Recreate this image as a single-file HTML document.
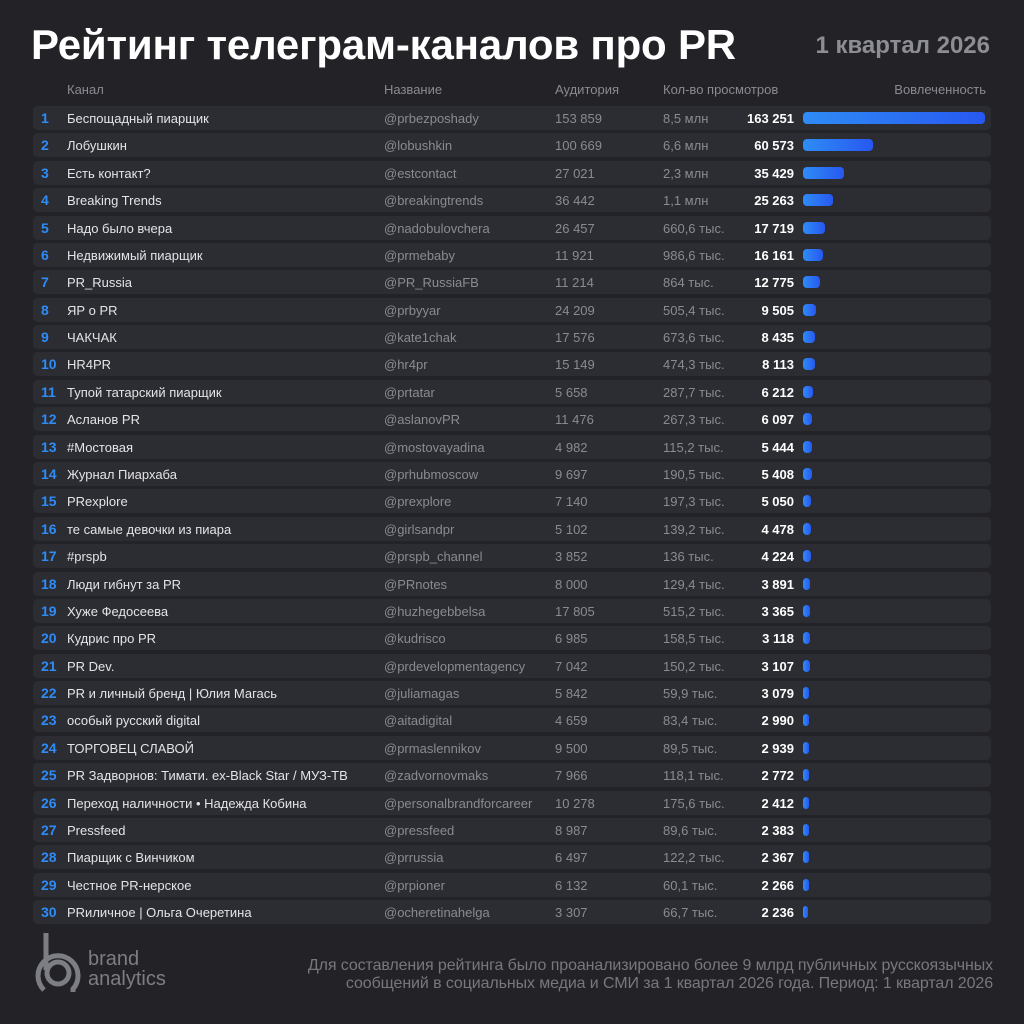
<!DOCTYPE html>
<html><head><meta charset="utf-8"><style>
body{margin:0;width:1024px;height:1024px;background:#232327;font-family:"Liberation Sans",sans-serif;position:relative;overflow:hidden}
.t{position:absolute;left:31px;top:21px;font-size:42px;font-weight:bold;color:#fff;letter-spacing:-0.2px}
.q{position:absolute;right:34px;top:32px;font-size:24px;font-weight:bold;color:#8d8e94}
.h{position:absolute;top:82px;font-size:13px;color:#8a8b92}
.r{position:absolute;left:33px;width:958px;height:24px;background:#2c2d32;border-radius:5px;font-size:13px;line-height:25px;color:#e4e4e7}
.r span{position:absolute;white-space:nowrap}
.n{left:8px;color:#2f8cf6;font-weight:bold;font-size:14px}
.c{left:34px}
.a{left:351px;color:#8a8b92}
.u{left:522px;color:#8a8b92}
.v{left:630px;color:#8a8b92}
.e{right:197px;font-weight:bold;color:#fff}
.b{position:absolute;left:770px;top:6px;height:12px;border-radius:4px;background:linear-gradient(90deg,#2f8cf6,#2758f0)}
.f{position:absolute;right:31px;top:957px;text-align:right;font-size:16px;line-height:18px;color:#77787d;letter-spacing:-0.1px}
.lg{position:absolute;left:88px;top:949px;font-size:20px;line-height:20px;color:#7c7e84}
</style></head><body>
<div class="t">Рейтинг телеграм-каналов про PR</div>
<div class="q">1 квартал 2026</div>
<div class="h" style="left:67px">Канал</div>
<div class="h" style="left:384px">Название</div>
<div class="h" style="left:555px">Аудитория</div>
<div class="h" style="left:663px">Кол-во просмотров</div>
<div class="h" style="right:38px">Вовлеченность</div>

<div class="r" style="top:106px"><span class="n">1</span><span class="c">Беспощадный пиарщик</span><span class="a">@prbezposhady</span><span class="u">153 859</span><span class="v">8,5 млн</span><span class="e">163 251</span><div class="b" style="width:182px"></div></div>
<div class="r" style="top:133.4px"><span class="n">2</span><span class="c">Лобушкин</span><span class="a">@lobushkin</span><span class="u">100 669</span><span class="v">6,6 млн</span><span class="e">60 573</span><div class="b" style="width:70px"></div></div>
<div class="r" style="top:160.8px"><span class="n">3</span><span class="c">Есть контакт?</span><span class="a">@estcontact</span><span class="u">27 021</span><span class="v">2,3 млн</span><span class="e">35 429</span><div class="b" style="width:41px"></div></div>
<div class="r" style="top:188.1px"><span class="n">4</span><span class="c">Breaking Trends</span><span class="a">@breakingtrends</span><span class="u">36 442</span><span class="v">1,1 млн</span><span class="e">25 263</span><div class="b" style="width:30px"></div></div>
<div class="r" style="top:215.5px"><span class="n">5</span><span class="c">Надо было вчера</span><span class="a">@nadobulovchera</span><span class="u">26 457</span><span class="v">660,6 тыс.</span><span class="e">17 719</span><div class="b" style="width:22px"></div></div>
<div class="r" style="top:242.9px"><span class="n">6</span><span class="c">Недвижимый пиарщик</span><span class="a">@prmebaby</span><span class="u">11 921</span><span class="v">986,6 тыс.</span><span class="e">16 161</span><div class="b" style="width:20px"></div></div>
<div class="r" style="top:270.3px"><span class="n">7</span><span class="c">PR_Russia</span><span class="a">@PR_RussiaFB</span><span class="u">11 214</span><span class="v">864 тыс.</span><span class="e">12 775</span><div class="b" style="width:17px"></div></div>
<div class="r" style="top:297.7px"><span class="n">8</span><span class="c">ЯР о PR</span><span class="a">@prbyyar</span><span class="u">24 209</span><span class="v">505,4 тыс.</span><span class="e">9 505</span><div class="b" style="width:13px"></div></div>
<div class="r" style="top:325px"><span class="n">9</span><span class="c">ЧАКЧАК</span><span class="a">@kate1chak</span><span class="u">17 576</span><span class="v">673,6 тыс.</span><span class="e">8 435</span><div class="b" style="width:12px"></div></div>
<div class="r" style="top:352.4px"><span class="n">10</span><span class="c">HR4PR</span><span class="a">@hr4pr</span><span class="u">15 149</span><span class="v">474,3 тыс.</span><span class="e">8 113</span><div class="b" style="width:11.5px"></div></div>
<div class="r" style="top:379.8px"><span class="n">11</span><span class="c">Тупой татарский пиарщик</span><span class="a">@prtatar</span><span class="u">5 658</span><span class="v">287,7 тыс.</span><span class="e">6 212</span><div class="b" style="width:9.5px"></div></div>
<div class="r" style="top:407.2px"><span class="n">12</span><span class="c">Асланов PR</span><span class="a">@aslanovPR</span><span class="u">11 476</span><span class="v">267,3 тыс.</span><span class="e">6 097</span><div class="b" style="width:9.3px"></div></div>
<div class="r" style="top:434.6px"><span class="n">13</span><span class="c">#Мостовая</span><span class="a">@mostovayadina</span><span class="u">4 982</span><span class="v">115,2 тыс.</span><span class="e">5 444</span><div class="b" style="width:8.8px"></div></div>
<div class="r" style="top:462px"><span class="n">14</span><span class="c">Журнал Пиархаба</span><span class="a">@prhubmoscow</span><span class="u">9 697</span><span class="v">190,5 тыс.</span><span class="e">5 408</span><div class="b" style="width:8.7px"></div></div>
<div class="r" style="top:489.3px"><span class="n">15</span><span class="c">PRexplore</span><span class="a">@prexplore</span><span class="u">7 140</span><span class="v">197,3 тыс.</span><span class="e">5 050</span><div class="b" style="width:8.4px"></div></div>
<div class="r" style="top:516.7px"><span class="n">16</span><span class="c">те самые девочки из пиара</span><span class="a">@girlsandpr</span><span class="u">5 102</span><span class="v">139,2 тыс.</span><span class="e">4 478</span><div class="b" style="width:7.9px"></div></div>
<div class="r" style="top:544.1px"><span class="n">17</span><span class="c">#prspb</span><span class="a">@prspb_channel</span><span class="u">3 852</span><span class="v">136 тыс.</span><span class="e">4 224</span><div class="b" style="width:7.6px"></div></div>
<div class="r" style="top:571.5px"><span class="n">18</span><span class="c">Люди гибнут за PR</span><span class="a">@PRnotes</span><span class="u">8 000</span><span class="v">129,4 тыс.</span><span class="e">3 891</span><div class="b" style="width:7.3px"></div></div>
<div class="r" style="top:598.9px"><span class="n">19</span><span class="c">Хуже Федосеева</span><span class="a">@huzhegebbelsa</span><span class="u">17 805</span><span class="v">515,2 тыс.</span><span class="e">3 365</span><div class="b" style="width:6.8px"></div></div>
<div class="r" style="top:626.2px"><span class="n">20</span><span class="c">Кудрис про PR</span><span class="a">@kudrisco</span><span class="u">6 985</span><span class="v">158,5 тыс.</span><span class="e">3 118</span><div class="b" style="width:6.5px"></div></div>
<div class="r" style="top:653.6px"><span class="n">21</span><span class="c">PR Dev.</span><span class="a">@prdevelopmentagency</span><span class="u">7 042</span><span class="v">150,2 тыс.</span><span class="e">3 107</span><div class="b" style="width:6.5px"></div></div>
<div class="r" style="top:681px"><span class="n">22</span><span class="c">PR и личный бренд | Юлия Магась</span><span class="a">@juliamagas</span><span class="u">5 842</span><span class="v">59,9 тыс.</span><span class="e">3 079</span><div class="b" style="width:6.4px"></div></div>
<div class="r" style="top:708.4px"><span class="n">23</span><span class="c">особый русский digital</span><span class="a">@aitadigital</span><span class="u">4 659</span><span class="v">83,4 тыс.</span><span class="e">2 990</span><div class="b" style="width:6.3px"></div></div>
<div class="r" style="top:735.8px"><span class="n">24</span><span class="c">ТОРГОВЕЦ СЛАВОЙ</span><span class="a">@prmaslennikov</span><span class="u">9 500</span><span class="v">89,5 тыс.</span><span class="e">2 939</span><div class="b" style="width:6.2px"></div></div>
<div class="r" style="top:763.1px"><span class="n">25</span><span class="c">PR Задворнов: Тимати. ex-Black Star / МУЗ-ТВ</span><span class="a">@zadvornovmaks</span><span class="u">7 966</span><span class="v">118,1 тыс.</span><span class="e">2 772</span><div class="b" style="width:6px"></div></div>
<div class="r" style="top:790.5px"><span class="n">26</span><span class="c">Переход наличности • Надежда Кобина</span><span class="a">@personalbrandforcareer</span><span class="u">10 278</span><span class="v">175,6 тыс.</span><span class="e">2 412</span><div class="b" style="width:5.7px"></div></div>
<div class="r" style="top:817.9px"><span class="n">27</span><span class="c">Pressfeed</span><span class="a">@pressfeed</span><span class="u">8 987</span><span class="v">89,6 тыс.</span><span class="e">2 383</span><div class="b" style="width:5.6px"></div></div>
<div class="r" style="top:845.3px"><span class="n">28</span><span class="c">Пиарщик с Винчиком</span><span class="a">@prrussia</span><span class="u">6 497</span><span class="v">122,2 тыс.</span><span class="e">2 367</span><div class="b" style="width:5.6px"></div></div>
<div class="r" style="top:872.7px"><span class="n">29</span><span class="c">Честное PR-нерское</span><span class="a">@prpioner</span><span class="u">6 132</span><span class="v">60,1 тыс.</span><span class="e">2 266</span><div class="b" style="width:5.5px"></div></div>
<div class="r" style="top:900px"><span class="n">30</span><span class="c">PRиличное | Ольга Очеретина</span><span class="a">@ocheretinahelga</span><span class="u">3 307</span><span class="v">66,7 тыс.</span><span class="e">2 236</span><div class="b" style="width:5.4px"></div></div>

<svg style="position:absolute;left:33px;top:930px" width="50" height="65" viewBox="0 0 50 65">
<g fill="none" stroke="#7c7e84" stroke-width="5">
<path d="M13 3 V40"/>
<circle cx="25" cy="43" r="11"/>
<path d="M11 60 A20 20 0 1 1 40 59 V62"/>
</g></svg>
<div class="lg">brand<br>analytics</div>
<div class="f">Для составления рейтинга было проанализировано более 9 млрд публичных русскоязычных<br>сообщений в социальных медиа и СМИ за 1 квартал 2026 года. Период: 1 квартал 2026</div>
</body></html>
